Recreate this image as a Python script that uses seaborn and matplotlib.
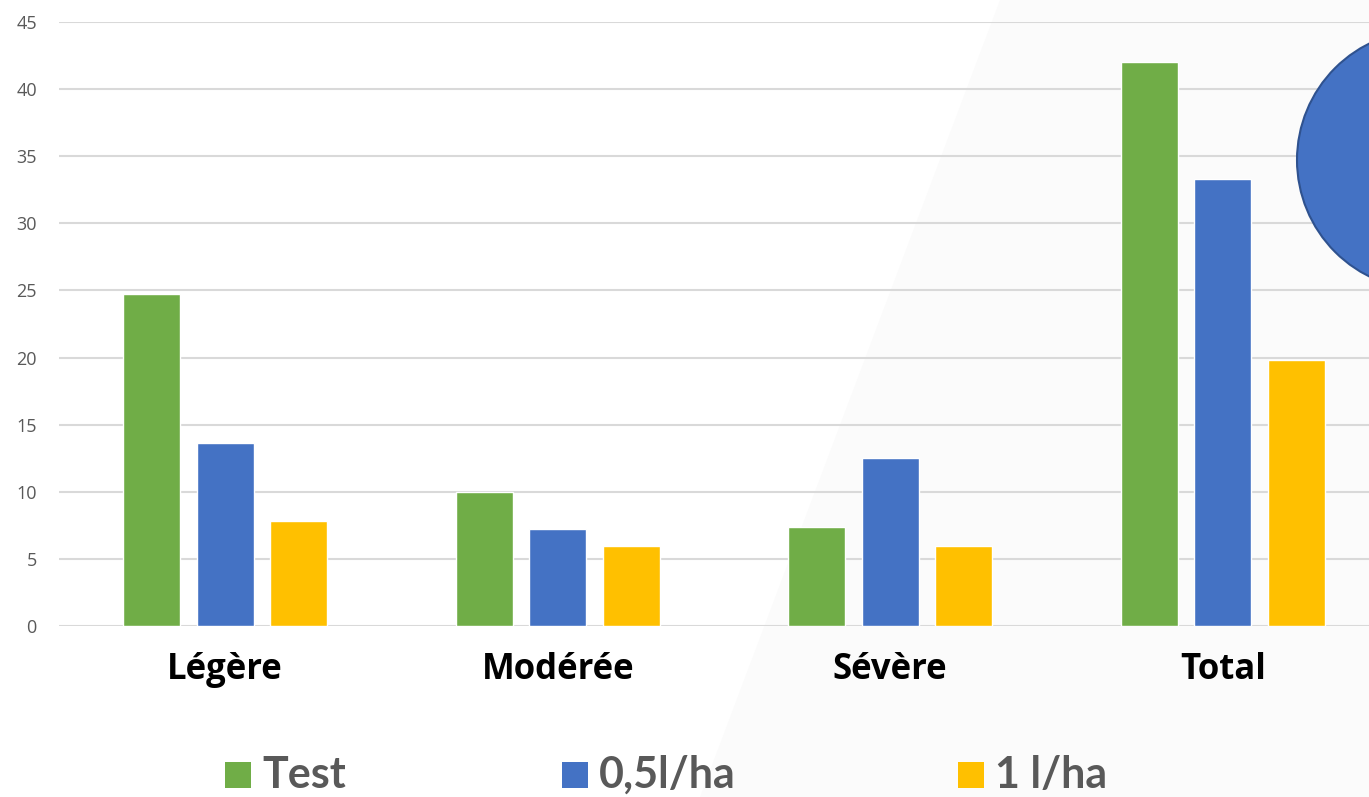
import matplotlib
matplotlib.use("Agg")
import matplotlib.pyplot as plt
import seaborn as sns
import pandas as pd
from matplotlib.patches import Polygon, Ellipse, Rectangle

categories = ["Légère", "Modérée", "Sévère", "Total"]
series_names = ["Test", "0,5l/ha", "1 l/ha"]
test_values = [24.7, 10.0, 7.35, 42.0]
dose05_values = [13.6, 7.25, 12.5, 33.3]
dose1_values = [7.85, 5.95, 5.95, 19.8]
y_ticks = [0, 5, 10, 15, 20, 25, 30, 35, 40, 45]

colors = ["#70AD47", "#4472C4", "#FFC000"]

rows = []
for name, vals in zip(series_names, [test_values, dose05_values, dose1_values]):
    for c, v in zip(categories, vals):
        rows.append({"cat": c, "serie": name, "val": v})
df = pd.DataFrame(rows)

sns.set_style("white")
plt.rcParams['font.family'] = ['Open Sans', 'DejaVu Sans']

W, H = 1369, 797
fig = plt.figure(figsize=(W / 100, H / 100), dpi=100)
fig.patch.set_facecolor("white")

# faint background shading (slide background)
bg = Polygon([(700 / W, 0), (1000 / W, 1), (1, 1), (1, 0)], closed=True,
             transform=fig.transFigure, facecolor="#FBFBFB", edgecolor="none", zorder=-5)
fig.patches.append(bg)

ax = fig.add_axes([59 / W, (H - 626) / H, (4 * 332.5) / W, 604 / H])
ax.set_facecolor("none")
ax.set_zorder(1)

sns.barplot(data=df, x="cat", y="val", hue="serie", hue_order=series_names,
            order=categories, palette=colors, width=0.663, gap=0.22,
            saturation=1, ax=ax, legend=False, zorder=3)

ax.set_ylim(0, 45)
ax.set_xlim(-0.5, 3.5)
ax.set_yticks(y_ticks)
ax.set_yticklabels([str(t) for t in y_ticks], fontsize=13, color="#595959")
ax.yaxis.grid(True, color="#D9D9D9", linewidth=1.5, zorder=0)
ax.set_axisbelow(True)
for s in ax.spines.values():
    s.set_visible(False)
ax.tick_params(axis="y", length=0, pad=16)
ax.tick_params(axis="x", length=0, pad=19)
ax.set_xticklabels(categories, fontsize=25, fontweight="bold", color="black")
ax.set_xlabel("")
ax.set_ylabel("")

# decorative blue circle at right
ell = Ellipse((1427 / W, (H - 160) / H), 2 * 130 / W, 2 * 130 / H, transform=fig.transFigure,
              facecolor="#4472C4", edgecolor="#2F528F", linewidth=1.5, zorder=10)
fig.patches.append(ell)

# legend
legend_items = [(225, series_names[0], colors[0]), (562, series_names[1], colors[1]),
                (958, series_names[2], colors[2])]
for x0, label, col in legend_items:
    fig.patches.append(Rectangle((x0 / W, (H - 788) / H), 26 / W, 26 / H,
                                 transform=fig.transFigure, facecolor=col,
                                 edgecolor="none", zorder=5))
    fig.text((x0 + 37) / W, (H - 775) / H, label, fontsize=31, fontweight="bold",
             color="#595959", va="center", ha="left", family=["Lato", "DejaVu Sans"])

fig.savefig("out.png", dpi=100)
